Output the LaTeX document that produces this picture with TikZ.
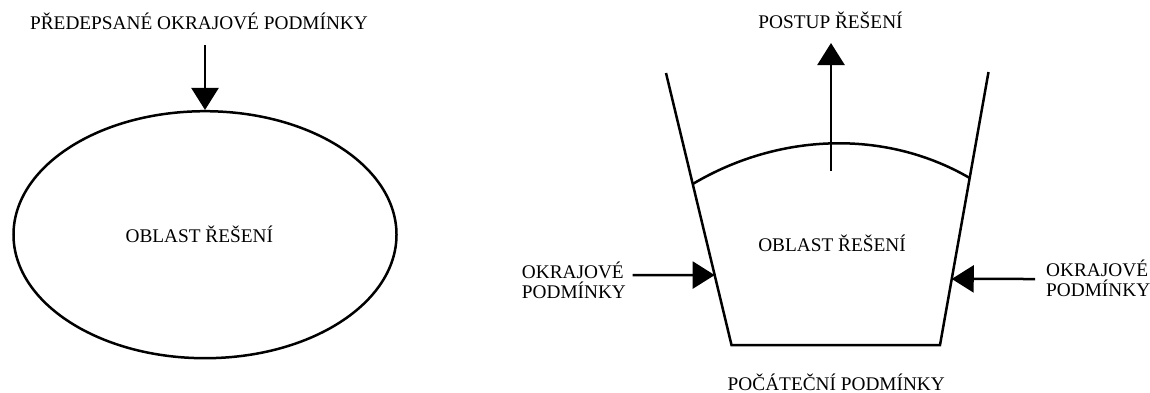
\documentclass[tikz,border=0pt]{standalone}
\usepackage{fontspec}
\setmainfont{Liberation Serif}
\usetikzlibrary{arrows.meta,shapes.geometric,calc}
\begin{document}
\begin{tikzpicture}[x=1pt,y=-1pt,
  txt/.style={inner sep=0pt, font=\fontsize{19.3}{20.5}\selectfont},
  lblc/.style={txt, anchor=base},
  lblw/.style={txt, anchor=base west},
  edge/.style={line width=2.5pt},
  arr/.style={line width=2.5pt, -{Triangle[length=22pt,width=27pt]}},
]
\useasboundingbox (0,0) rectangle (1150,392);

% ---- left figure ----
\node[lblc] (ptitle) at (199,29) {PŘEDEPSANÉ OKRAJOVÉ PODMÍNKY};
\node[draw, edge, ellipse, inner sep=0pt, minimum width=383pt, minimum height=247pt] (ell) at (205,234.7) {};
\node[lblc] (oblL) at (199.3,242.7) {OBLAST ŘEŠENÍ};
\coordinate (dstart) at (205,45);
\draw[arr] (dstart) -- (ell.north);

% ---- right figure ----
\coordinate (TL) at (666,73);
\coordinate (BL) at (731.5,345);
\coordinate (BR) at (940,345);
\coordinate (TR) at (988.5,72);
\draw[edge, line join=miter] (TL) -- (BL) -- (BR) -- (TR);

\coordinate (arcL) at (692.7,184);
\coordinate (arcR) at (969.7,178);
\draw[edge] (arcL) .. controls (777.7,133.4) and (884.3,128.3) .. (arcR);

\coordinate (upS) at (831,171);
\coordinate (upE) at (831,43);
\draw[arr] (upS) -- (upE);
\node[lblc] (postup) at (830.5,28.3) {POSTUP ŘEŠENÍ};

\node[lblc] (oblR) at (832,251.5) {OBLAST ŘEŠENÍ};

\coordinate (lS) at (632.7,275);
\coordinate (lE) at ($(TL)!0.743!(BL)$);
\draw[arr] (lS) -- (lE);
\node[lblw] (okL1) at (521.7,278.3) {OKRAJOVÉ};
\node[lblw] (okL2) at (521.7,298.3) {PODMÍNKY};

\coordinate (rS) at (1035,279);
\coordinate (rE) at ($(TR)!0.758!(BR)$);
\draw[arr] (rS) -- (rE);
\node[lblw] (okR1) at (1046,276.5) {OKRAJOVÉ};
\node[lblw] (okR2) at (1046,296.7) {PODMÍNKY};

\node[lblc] (pocat) at (836.3,390) {POČÁTEČNÍ PODMÍNKY};
\end{tikzpicture}
\end{document}
